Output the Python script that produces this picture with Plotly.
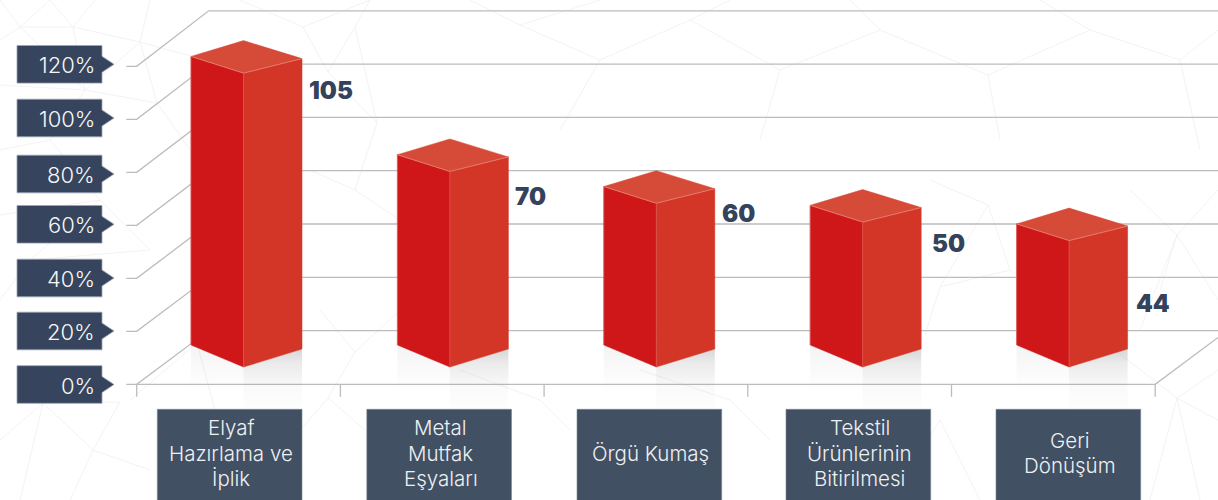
import plotly.graph_objects as go

categories = [["Elyaf", "Hazırlama ve", "İplik"], ["Metal", "Mutfak", "Eşyaları"], ["Örgü Kumaş"],
              ["Tekstil", "Ürünlerinin", "Bitirilmesi"], ["Geri", "Dönüşüm"]]
value_labels = ["105", "70", "60", "50", "44"]
# column heights as read against the percentage scale
bar_heights = [110.9, 73.8, 61.8, 54.7, 47.7]
tick_values = [0, 20, 40, 60, 80, 100, 120]
tick_labels = ["0%", "20%", "40%", "60%", "80%", "100%", "120%"]

# ---- geometry / scales -------------------------------------------------
W, H = 1218, 500
Y0_PX, Y_SCALE = 384.3, 2.65          # pixels of 0% and pixels per %
STEP_PX, X0_PX = 203.7, 238.5         # category spacing, first category centre
BACK_STRETCH = 1.0057                 # the back wall is drawn very slightly taller
ymax, ymin = Y0_PX / Y_SCALE, (Y0_PX - H) / Y_SCALE
xmin, xmax = -X0_PX / STEP_PX, (W - X0_PX) / STEP_PX
def X(px): return (px - X0_PX) / STEP_PX
def Y(px): return (Y0_PX - px) / Y_SCALE
def dx(px): return px / STEP_PX
def dy(px): return px / Y_SCALE

GRID = "#bcbcbc"; TAG = "#36455d"; BOX = "#425063"; INK = "#34425c"
LEFT = "#cf1719"; RIGHT = "#d33526"; TOP = "#d64a38"; EDGE = "#e8837a"
FONT = "Inter"

fig = go.Figure()
def poly(xs, ys, fill, line=None, lw=1):
    fig.add_trace(go.Scatter(x=xs, y=ys, mode="lines", fill="toself", fillcolor=fill,
                             line=dict(color=line or fill, width=lw), hoverinfo="skip", showlegend=False))
def seg(xs, ys, color=GRID, lw=1.3):
    fig.add_trace(go.Scatter(x=xs, y=ys, mode="lines", line=dict(color=color, width=lw),
                             hoverinfo="skip", showlegend=False))

# faint low-poly background texture
bg = [((20,27),(73,27)),((20,27),(0,40)),((20,27),(50,0)),((20,27),(0,0)),((73,27),(140,42)),((73,27),(50,0)),((73,27),(95,0)),
      ((140,42),(150,0)),((140,42),(157,103)),((140,42),(205,60)),((140,42),(85,90)),((73,27),(85,90)),((20,27),(85,90)),
      ((85,90),(0,85)),((85,90),(50,140)),((85,90),(157,103)),((50,140),(0,150)),((50,140),(100,200)),((157,103),(190,150)),
      ((100,200),(0,215)),((100,200),(30,260)),((100,200),(150,250)),((30,260),(0,300)),((30,260),(150,250)),
      ((43,403),(0,440)),((43,403),(20,500)),((43,403),(93,450)),((93,450),(70,500)),((93,450),(150,470)),((43,403),(120,402)),((120,402),(93,450)),
      ((328,72),(303,27)),((328,72),(355,27)),((303,27),(240,0)),((303,27),(370,0)),((355,27),(370,0)),((355,27),(377,123)),((328,72),(377,123)),
      ((377,123),(355,190)),((355,190),(310,170)),((355,190),(400,220)),((355,352),(328,398)),((355,352),(400,310)),((355,352),(320,310)),
      ((328,398),(300,430)),((328,398),(365,430)),((197,343),(130,400)),((197,343),(215,410)),((197,343),(290,350)),
      ((520,25),(470,0)),((520,25),(600,0)),((520,25),(600,60)),((600,60),(690,20)),((690,20),(730,0)),((690,20),(780,70)),
      ((780,70),(880,30)),((880,30),(850,0)),((880,30),(988,75)),((988,75),(1090,30)),((1090,30),(1040,0)),((1090,30),(1180,60)),((1180,60),(1218,30)),
      ((600,60),(560,130)),((780,70),(760,140)),((988,75),(1000,140)),((1180,60),(1200,150)),
      ((988,205),(1010,270)),((988,205),(940,287)),((1010,270),(940,287)),((988,205),(930,180)),((1010,270),(1177,398)),((940,287),(925,335)),
      ((1177,235),(1130,190)),((1177,235),(1218,190)),((1177,235),(1140,330)),((1177,235),(1218,300)),((1177,235),(1160,290)),
      ((1177,398),(1218,370)),((1177,398),(1150,500)),((1177,398),(1200,500)),((1177,398),(1218,420)),
      ((940,420),(890,500)),((940,420),(980,500)),((730,400),(640,370)),((730,400),(770,440)),((540,400),(570,430)),((540,400),(460,370))]
bx, by = [], []
for a, b in bg:
    bx += [X(a[0]), X(b[0]), None]; by += [Y(a[1]), Y(b[1]), None]
seg(bx, by, "#f3f3f3", 1)

# back wall, left wall and floor
DX, DY = dx(72), dy(53.7)
L = X(136.7)
R = L + 5
for v in tick_values:
    back = v * BACK_STRETCH + DY
    seg([X(126.3), L, L + DX, xmax + 1], [v, v, back, back])
seg([L, R, R + DX], [0, 0, DY])
for k in range(6):
    seg([L + k, L + k], [0, -dy(12.5)])

# columns
BAR_STEP, BAR_OFF, HALF = dx(206.4), dx(8.0), dx(55.5)
FRONT = dx(-3)
BASE = dy(17.3)
for i, h in enumerate(bar_heights):
    c = i * BAR_STEP + BAR_OFF
    l, f, r = c - HALF, c + FRONT, c + HALF
    top = BASE + h
    ybot = Y(420)
    # soft ground shadow
    fig.add_trace(go.Scatter(x=[f, r, r, f, f], y=[BASE, BASE + dy(18), ybot, ybot, BASE], mode="lines", fill="toself",
                             line=dict(width=0), hoverinfo="skip", showlegend=False,
                             fillgradient=dict(type="vertical", start=ybot, stop=BASE + dy(18),
                                               colorscale=[[0, "rgba(0,0,0,0)"], [0.45, "rgba(0,0,0,0.02)"], [0.8, "rgba(0,0,0,0.08)"], [1, "rgba(0,0,0,0.16)"]])))
    fig.add_trace(go.Scatter(x=[l, f, f, l, l], y=[BASE + dy(22), BASE, Y(392), Y(392), BASE + dy(22)], mode="lines", fill="toself",
                             line=dict(width=0), hoverinfo="skip", showlegend=False,
                             fillgradient=dict(type="vertical", start=Y(392), stop=BASE + dy(22),
                                               colorscale=[[0, "rgba(0,0,0,0)"], [1, "rgba(0,0,0,0.045)"]])))
    poly([l, f, f, l, l], [BASE + dy(22), BASE, top, top + dy(16.7), BASE + dy(22)], LEFT, LEFT, 0.5)
    poly([f, r, r, f, f], [BASE, BASE + dy(18), top + dy(14.5), top, BASE], RIGHT, RIGHT, 0.5)
    poly([l, c + FRONT, r, c + FRONT, l], [top + dy(16.7), top, top + dy(14.5), top + dy(32.5), top + dy(16.7)], TOP, TOP, 0.5)
    seg([l, f, r], [top + dy(16.7), top, top + dy(14.5)], EDGE, 0.8)
    seg([f, f], [BASE, top], "#dc5a50", 0.7)
    seg([l, l], [BASE + dy(22), top + dy(16.7)], "#e06a64", 0.7)

# value labels
label_px = [(307, 90), (513, 196), (720, 213), (930, 243), (1134, 303)]
anns = []
for t, (px, py) in zip(value_labels, label_px):
    anns.append(dict(x=X(px), y=Y(py), text=t, xanchor="left", yanchor="middle", showarrow=False,
                     font=dict(family=FONT, size=24, color=INK, weight=900)))

# percentage tags
tag_px = [384.5, 331, 278, 224.3, 174, 118, 64.3]
for t, py in zip(tick_labels, tag_px):
    poly([X(17), X(102), X(102), X(114), X(102), X(102), X(17), X(17)],
         [Y(py - 18.8), Y(py - 18.8), Y(py - 8), Y(py), Y(py + 8), Y(py + 18.8), Y(py + 18.8), Y(py - 18.8)],
         TAG, "#9aa3b1", 0.8)
    anns.append(dict(x=X(96.5), y=Y(py + 1), text=t, xanchor="right", yanchor="middle", showarrow=False,
                     font=dict(family=FONT, size=22, color="#f6f7f8", weight=300)))

# category boxes
box_left = [157.3, 366.8, 577, 786, 996]
for lines, left in zip(categories, box_left):
    xl, xr = X(left), X(left + 144.7)
    poly([xl, xr, xr, xl, xl], [Y(409.3), Y(409.3), Y(510), Y(510), Y(409.3)], BOX, "#7b8696", 0.6)
    mid = 453 - (len(lines) - 1) * 12.7 if len(lines) != 2 else 440
    for j, line in enumerate(lines):
        anns.append(dict(x=(xl + xr) / 2 + dx(1.5), y=Y(mid + j * 25.4), text=line, xanchor="center", yanchor="middle", showarrow=False,
                         font=dict(family=FONT, size=20.5, color="#eef0f3", weight=300)))

fig.update_layout(width=W, height=H, margin=dict(l=0, r=0, t=0, b=0), paper_bgcolor="white", plot_bgcolor="white",
                  showlegend=False, annotations=anns,
                  xaxis=dict(range=[xmin, xmax], visible=False, fixedrange=True),
                  yaxis=dict(range=[ymin, ymax], visible=False, fixedrange=True))
fig.write_html("out.html", config=dict(displayModeBar=False),
               post_script="document.documentElement.style.margin='0';document.body.style.margin='0';document.body.style.padding='0';document.body.style.overflow='hidden';")
